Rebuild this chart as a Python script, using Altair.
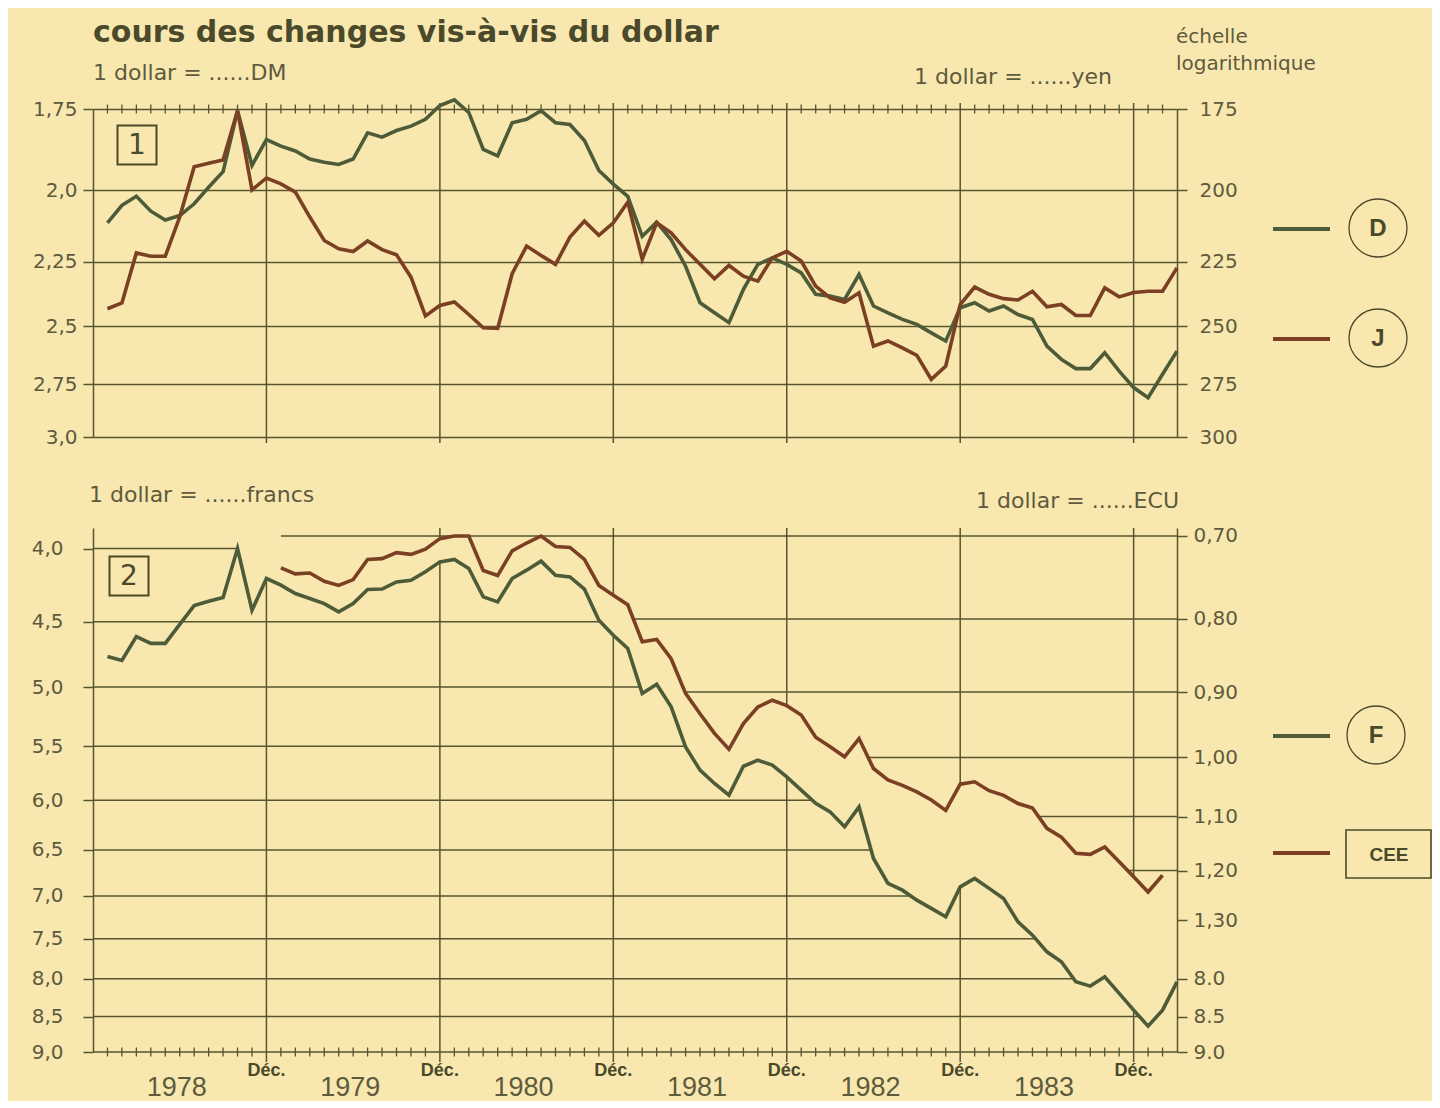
import altair as alt
import pandas as pd

# ------------------------------------------------------------------ data
# month index: 1 = Jan 1978 ... 75 = Mar 1984 (0 = Dec 1977, left edge)
MONTH = list(range(1, 76))

DM = [2.11, 2.05, 2.02, 2.07, 2.10, 2.085, 2.045, 1.99, 1.94, 1.755, 1.92, 1.84,
      1.86, 1.875, 1.90, 1.91, 1.917, 1.90, 1.82, 1.833, 1.813, 1.80, 1.78, 1.74,
      1.724, 1.76, 1.87, 1.89, 1.79, 1.78, 1.755, 1.79, 1.795, 1.843, 1.936, 1.98,
      2.02, 2.157, 2.108, 2.169, 2.266, 2.406, 2.446, 2.486, 2.354, 2.259, 2.235, 2.259,
      2.291, 2.373, 2.38, 2.393, 2.297, 2.419, 2.446, 2.473, 2.493, 2.528, 2.562, 2.426,
      2.406, 2.439, 2.419, 2.453, 2.473, 2.584, 2.641, 2.681, 2.681, 2.612, 2.692, 2.766,
      2.812, 2.706, 2.605]

YEN = [243, 240.7, 221.7, 222.9, 222.9, 209, 192.4, 191.3, 190.3, 175.5, 199.9, 196,
       197.9, 200.6, 209, 217.2, 220.2, 221.2, 217.4, 220.5, 222.4, 230.7, 245.9, 241.7,
       240.3, 245.3, 250.7, 251, 229.4, 219.2, 222.6, 225.9, 216, 210.4, 215.4, 211,
       204, 224, 211, 214.5, 220.5, 225.9, 231.3, 226.3, 230.3, 232.2, 223.5, 221.1,
       224.7, 234.1, 238.7, 240.4, 236.7, 258.4, 256.2, 259.1, 262.3, 272.9, 267, 241.3,
       234.5, 237.3, 239, 239.5, 236.1, 242.2, 241.3, 245.7, 245.7, 234.8, 238.3, 236.6,
       236.1, 236.1, 227.2]

FRANCS = [4.76, 4.79, 4.61, 4.66, 4.66, 4.52, 4.385, 4.355, 4.329, 4.0, 4.418, 4.198,
          4.243, 4.301, 4.335, 4.371, 4.43, 4.371, 4.273, 4.27, 4.221, 4.21, 4.153, 4.087,
          4.071, 4.131, 4.324, 4.359, 4.198, 4.142, 4.082, 4.176, 4.187, 4.27, 4.49, 4.6,
          4.699, 5.052, 4.977, 5.162, 5.506, 5.716, 5.84, 5.951, 5.68, 5.625, 5.67, 5.778,
          5.903, 6.03, 6.113, 6.262, 6.064, 6.59, 6.86, 6.935, 7.047, 7.142, 7.239, 6.898,
          6.805, 6.915, 7.028, 7.298, 7.456, 7.659, 7.783, 8.038, 8.094, 7.973, 8.19, 8.413,
          8.633, 8.413, 8.038]

ECU_FIRST_MONTH = 13          # Jan 1979
ECU = [0.737, 0.744, 0.743, 0.753, 0.758, 0.751, 0.727, 0.726, 0.719, 0.721, 0.715, 0.703,
       0.700, 0.700, 0.740, 0.746, 0.717, 0.708, 0.700, 0.712, 0.713, 0.727, 0.758, 0.770,
       0.782, 0.830, 0.827, 0.853, 0.902, 0.932, 0.962, 0.987, 0.947, 0.922, 0.912, 0.920,
       0.934, 0.968, 0.983, 0.999, 0.970, 1.018, 1.037, 1.046, 1.057, 1.071, 1.089, 1.044,
       1.040, 1.055, 1.063, 1.077, 1.085, 1.121, 1.137, 1.167, 1.169, 1.155, 1.183, 1.212,
       1.242, 1.209]
ECU_MONTH = list(range(ECU_FIRST_MONTH, ECU_FIRST_MONTH + len(ECU)))

DEC_MONTHS = [12, 24, 36, 48, 60, 72]
DEC_LABEL = "Déc."
YEARS = ["1978", "1979", "1980", "1981", "1982", "1983"]
YEAR_MID = [6, 18, 30, 42, 54, 66]

DM_TICKS = [1.75, 2.0, 2.25, 2.5, 2.75, 3.0]
YEN_TICKS = [175, 200, 225, 250, 275, 300]
FR_TICKS = [4.0, 4.5, 5.0, 5.5, 6.0, 6.5, 7.0, 7.5, 8.0, 8.5, 9.0]
ECU_TICKS = [0.70, 0.80, 0.90, 1.00, 1.10, 1.20, 1.30]
FR_RIGHT_TICKS = [8.0, 8.5, 9.0]
FR_PER_ECU = 5.6              # link between the two lower scales

DM_DOM = [1.75, 3.0]
YEN_DOM = [175, 300]
FR_DOM = [3.87, 9.0]
ECU_DOM = [FR_DOM[0] / FR_PER_ECU, FR_DOM[1] / FR_PER_ECU]

TITLE = "cours des changes vis-à-vis du dollar"

# ------------------------------------------------------------------ style
BG = "#F8E8AF"
GRID = "#57542F"
GREEN = "#4E5B38"
BROWN = "#7B3F23"
TXT = "#5E5A3D"
DARK = "#4A492A"
FONT = "DejaVu Sans"
NARROW = "Liberation Sans Narrow, Liberation Sans, Arial"

W, H1, H2, GAP = 1084, 328, 524, 91
X_MAX = 75
ONE = pd.DataFrame({"k": [0]})

xs = alt.Scale(domain=[0, X_MAX], nice=False, zero=False)


def X(field):
    return alt.X(field, type="quantitative", scale=xs, axis=None)


def Ylog(field, dom, axis=None):
    return alt.Y(field, type="quantitative",
                 scale=alt.Scale(type="log", domain=dom, reverse=True, nice=False, zero=False),
                 axis=axis)


def axis(orient, values, expr, pad, grid=False):
    kw = dict(orient=orient, values=values, labelExpr=expr, title=None,
              tickSize=10, tickWidth=1.5, tickColor=GRID,
              domain=True, domainColor=GRID, domainWidth=1.5,
              labelFont=FONT, labelFontSize=20, labelColor=TXT, labelPadding=pad,
              labelOverlap=False, grid=grid)
    if grid:
        kw.update(gridColor=GRID, gridWidth=1.5, gridOpacity=1)
    return alt.Axis(**kw)


def text(s, x, y, size, color=TXT, weight="normal", align="left", font=FONT):
    return alt.Chart(ONE).mark_text(text=s, fontSize=size, fontWeight=weight, align=align,
                                    baseline="middle", font=font, color=color
                                    ).encode(x=alt.value(x), y=alt.value(y))


def hline(x1, x2, y, color, width):
    return alt.Chart(ONE).mark_rule(color=color, strokeWidth=width).encode(
        x=alt.value(x1), x2=alt.value(x2), y=alt.value(y))


def circle_label(letter, cx, cy):
    c = alt.Chart(ONE).mark_point(shape="circle", filled=False, size=58 * 58, strokeWidth=1.3,
                                  color=DARK, opacity=1).encode(x=alt.value(cx), y=alt.value(cy))
    return [c, text(letter, cx, cy + 1, 24, DARK, "bold", "center", NARROW)]


def box_label(num, cx, cy):
    b = alt.Chart(ONE).mark_point(shape="square", filled=False, size=39 * 39, strokeWidth=2,
                                  color=DARK, opacity=1).encode(x=alt.value(cx), y=alt.value(cy))
    return [b, text(num, cx, cy + 1, 28, DARK, "normal", "center")]


# gridline extents: lines stop where they meet the curves (band between curves kept clear)
def first_up_crossing(ms, vals, v):
    for a, b, ma, mb in zip(vals, vals[1:], ms, ms[1:]):
        if a <= v < b:
            return ma + (v - a) / (b - a) * (mb - ma)
    return X_MAX if max(vals) < v else 0


def last_up_crossing(ms, vals, v):
    res = None
    for a, b, ma, mb in zip(vals, vals[1:], ms, ms[1:]):
        if a < v <= b:
            res = ma + (v - a) / (b - a) * (mb - ma)
    if res is None and min(vals) >= v:
        res = ms[0]
    return res


dm_expr = "replace(format(datum.value, (round(datum.value*100) % 10 == 0) ? '.1f' : '.2f'), '.', ',')"
fr_expr = "replace(format(datum.value, '.1f'), '.', ',')"
ecu_expr = ("datum.value > 1.35 ? format(datum.value * %s, '.1f') : "
            "replace(format(datum.value, '.2f'), '.', ',')") % FR_PER_ECU

# ------------------------------------------------------------------ panel 1
top_df = pd.DataFrame({"m": MONTH, "dm": DM, "yen": YEN})
dec_df = pd.DataFrame({"m": DEC_MONTHS})
minor_df = pd.DataFrame({"m": [m for m in range(1, X_MAX) if m not in DEC_MONTHS]})

dm_axis = axis("left", DM_TICKS, dm_expr, 6, grid=True)
yen_axis = axis("right", YEN_TICKS, "datum.value", 12)

dec_rules = alt.Chart(dec_df).mark_rule(color=GRID, strokeWidth=1.5).encode(
    x=X("m"), y=alt.value(-6), y2=alt.value(H1 + 6))
top_ticks = alt.Chart(minor_df).mark_rule(color=GRID, strokeWidth=1.3).encode(
    x=X("m"), y=alt.value(-4.5), y2=alt.value(4.5))
dm_line = alt.Chart(top_df).mark_line(color=GREEN, strokeWidth=3.6).encode(
    x=X("m"), y=Ylog("dm", DM_DOM, dm_axis))
yen_line = alt.Chart(top_df).mark_line(color=BROWN, strokeWidth=3.6).encode(
    x=X("m"), y=Ylog("yen", YEN_DOM, yen_axis))

anchor = alt.Chart(ONE).mark_rule(color=BG, strokeWidth=1).encode(
    x=alt.value(-84), x2=alt.value(-83), y=alt.value(-100))

top_A = [anchor, dec_rules, top_ticks, dm_line,
         text(TITLE, 0, -76, 30, DARK, "bold"),
         text("1 dollar = ......DM", 0, -36, 22),
         text("échelle", 1083, -72, 20),
         text("logarithmique", 1083, -45, 20),
         hline(1180, 1237, 120, GREEN, 4),
         hline(1180, 1237, 230, BROWN, 4)]
top_A += box_label("1", 44, 36)
top_A += circle_label("D", 1285, 119)
top_A += circle_label("J", 1285, 229)
top_B = [yen_line, text("1 dollar = ......yen", 821, -32, 22)]

panel1 = alt.layer(alt.layer(*top_A), alt.layer(*top_B)).resolve_scale(
    y="independent").properties(width=W, height=H1)

# ------------------------------------------------------------------ panel 2
fr_df = pd.DataFrame({"m": MONTH, "fr": FRANCS})
ecu_df = pd.DataFrame({"m": ECU_MONTH, "ecu": ECU})

fr_grid = pd.DataFrame([{"v": v, "x0": 0, "x1": first_up_crossing(MONTH, FRANCS, v)}
                        for v in FR_TICKS])
ecu_rows = []
for w in ECU_TICKS:
    s = last_up_crossing(ECU_MONTH, ECU, w)
    if s is not None:
        ecu_rows.append({"v": w, "x0": s, "x1": X_MAX})
ecu_grid = pd.DataFrame(ecu_rows)

fr_vert = pd.DataFrame({"m": DEC_MONTHS, "v": [FRANCS[m - 1] for m in DEC_MONTHS]})
ecu_vert = pd.DataFrame([{"m": m, "v": ECU[m - ECU_FIRST_MONTH]} for m in DEC_MONTHS
                         if ECU_FIRST_MONTH <= m <= ECU_MONTH[-1]])

fr_axis = axis("left", FR_TICKS, fr_expr, 20)
ecu_axis = axis("right", ECU_TICKS + [v / FR_PER_ECU for v in FR_RIGHT_TICKS], ecu_expr, 6)

fr_grid_r = alt.Chart(fr_grid).mark_rule(color=GRID, strokeWidth=1.5).encode(
    x=X("x0"), x2="x1:Q", y=Ylog("v", FR_DOM, fr_axis))
fr_vert_r = alt.Chart(fr_vert).mark_rule(color=GRID, strokeWidth=1.5).encode(
    x=X("m"), y=Ylog("v", FR_DOM, fr_axis), y2=alt.value(H2 + 10))
bot_ticks = alt.Chart(minor_df).mark_rule(color=GRID, strokeWidth=1.3).encode(
    x=X("m"), y=alt.value(H2 - 4.5), y2=alt.value(H2 + 4.5))
fr_line = alt.Chart(fr_df).mark_line(color=GREEN, strokeWidth=3.6).encode(
    x=X("m"), y=Ylog("fr", FR_DOM, fr_axis))

dec_text = alt.Chart(dec_df).mark_text(text=DEC_LABEL, fontSize=18, fontWeight="bold",
                                       font=NARROW, color=DARK, baseline="middle").encode(
    x=X("m"), y=alt.value(H2 + 19))
year_text = alt.Chart(pd.DataFrame({"m": YEAR_MID, "t": YEARS})).mark_text(
    fontSize=27, font="Liberation Sans", color=TXT, baseline="middle", dx=-3).encode(
    x=X("m"), y=alt.value(H2 + 36), text="t:N")

ecu_grid_r = alt.Chart(ecu_grid).mark_rule(color=GRID, strokeWidth=1.5).encode(
    x=X("x0"), x2="x1:Q", y=Ylog("v", ECU_DOM, ecu_axis))
ecu_vert_r = alt.Chart(ecu_vert).mark_rule(color=GRID, strokeWidth=1.5).encode(
    x=X("m"), y=Ylog("v", ECU_DOM, ecu_axis), y2=alt.value(0))
ecu_line = alt.Chart(ecu_df).mark_line(color=BROWN, strokeWidth=3.6).encode(
    x=X("m"), y=Ylog("ecu", ECU_DOM, ecu_axis))

cee_box = alt.Chart(ONE).mark_rect(fillOpacity=0, stroke=DARK, strokeWidth=1.6).encode(
    x=alt.value(1253), x2=alt.value(1338), y=alt.value(302), y2=alt.value(350))

bot_A = [fr_grid_r, fr_vert_r, bot_ticks, fr_line, dec_text, year_text,
         text("1 dollar = ......francs", -4, -33, 22),
         hline(1180, 1237, 208, GREEN, 4),
         hline(1180, 1237, 325, BROWN, 4),
         cee_box,
         text("CEE", 1296, 327, 19, DARK, "bold", "center", NARROW)]
bot_A += box_label("2", 36, 48)
bot_A += circle_label("F", 1283, 207)
bot_B = [ecu_grid_r, ecu_vert_r, ecu_line,
         text("1 dollar = ......ECU", 1086, -27, 22, align="right")]

panel2 = alt.layer(alt.layer(*bot_A), alt.layer(*bot_B)).resolve_scale(
    y="independent").properties(width=W, height=H2)

chart = alt.vconcat(panel1, panel2, spacing=GAP, bounds="flush").properties(
    background=BG, padding=0).configure_view(stroke=None)

chart.save("out.html", embed_options={"renderer": "svg", "actions": False})
